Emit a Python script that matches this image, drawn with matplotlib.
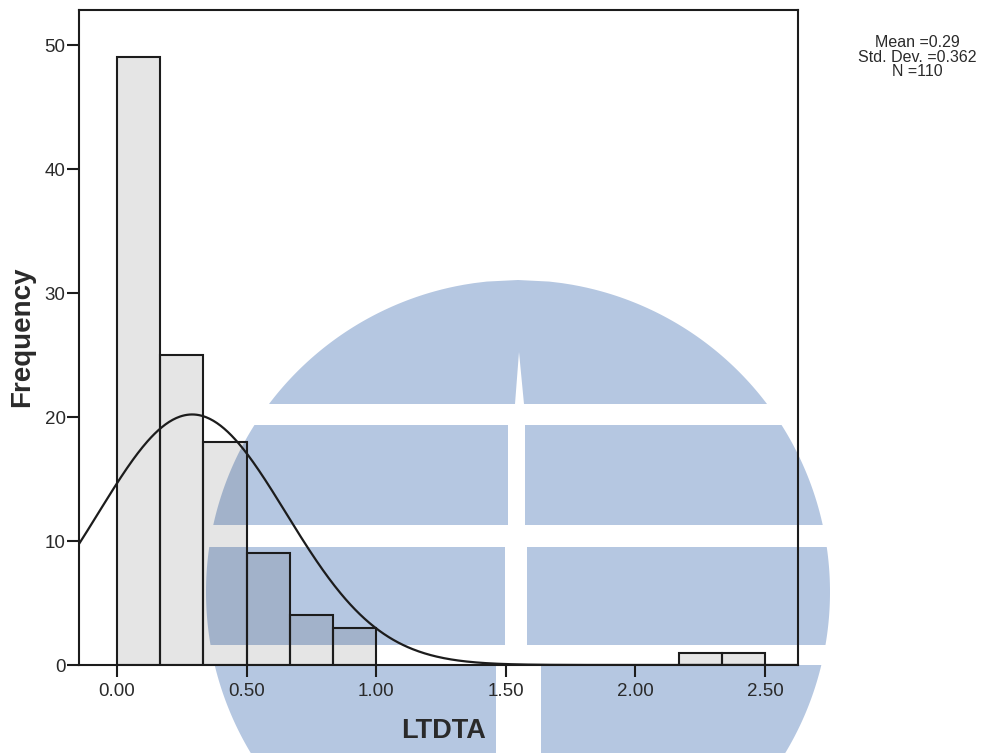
import numpy as np
import matplotlib
matplotlib.use("Agg")
import matplotlib.pyplot as plt
from matplotlib.patches import Polygon

# ---- data -------------------------------------------------------------
bin_width = 1 / 6
bin_starts = np.arange(15) * bin_width          # 0.00 ... 2.33
counts = [49, 25, 18, 9, 4, 3, 0, 0, 0, 0, 0, 0, 0, 1, 1]
mean_val = 0.29
std_val = 0.362
n_obs = 110
x_ticks = [0.0, 0.5, 1.0, 1.5, 2.0, 2.5]
x_ticklabels = ["0.00", "0.50", "1.00", "1.50", "2.00", "2.50"]
y_ticks = [0, 10, 20, 30, 40, 50]
x_title = "LTDTA"
y_title = "Frequency"

W, H = 1001, 753
fig = plt.figure(figsize=(W / 100, H / 100), dpi=100)
fig.patch.set_facecolor("white")
plt.rcParams["font.family"] = ["Liberation Sans", "DejaVu Sans"]

# ---- background emblem (pixel coordinates) -----------------------------
bg = fig.add_axes([0, 0, 1, 1], zorder=0)
bg.set_xlim(0, W)
bg.set_ylim(H, 0)
bg.axis("off")

emb_color = "#b5c7e1"
cx, cy, r = 518, 592, 312
bands = [(280, 404, None), (425, 525, (508, 525)), (547, 645, (505, 527)),
         (665, 760, (496, 541))]


def half_width(y):
    return np.sqrt(np.clip(r ** 2 - (y - cy) ** 2, 0, None))


for y0, y1, gap in bands:
    ys = np.linspace(y0, y1, 80)
    hw = half_width(ys)
    left = cx - hw
    right = cx + hw
    if gap is None:
        pts = np.vstack([np.column_stack([left, ys]),
                         np.column_stack([right[::-1], ys[::-1]])])
        bg.add_patch(Polygon(pts, closed=True, fc=emb_color, ec="none"))
    else:
        gl, gr = gap
        pts_l = np.vstack([np.column_stack([left, ys]),
                           [[gl, y1], [gl, y0]]])
        pts_r = np.vstack([[[gr, y0], [gr, y1]],
                           np.column_stack([right[::-1], ys[::-1]])])
        bg.add_patch(Polygon(pts_l, closed=True, fc=emb_color, ec="none"))
        bg.add_patch(Polygon(pts_r, closed=True, fc=emb_color, ec="none"))

# thin white spike in the top cap
bg.add_patch(Polygon([[519, 352], [515, 404], [524, 404]], closed=True,
                     fc="white", ec="none"))

# ---- histogram axes ------------------------------------------------------
ax_l, ax_r, ax_t, ax_b = 79, 798, 10, 665
ax = fig.add_axes([ax_l / W, (H - ax_b) / H, (ax_r - ax_l) / W, (ax_b - ax_t) / H],
                  zorder=1)
ax.patch.set_alpha(0)

px_per_unit = 259.2
x0_px = 117
ax.set_xlim((ax_l - x0_px) / px_per_unit, (ax_r - x0_px) / px_per_unit)
ax.set_ylim(0, (ax_b - ax_t) / 12.4)

line_col = "#1c1c1c"
for s, c in zip(bin_starts, counts):
    if c > 0:
        ax.bar(s, c, width=bin_width, align="edge", color=(0, 0, 0, 0.10),
               edgecolor=line_col, linewidth=1.5, zorder=2)

# normal curve scaled to counts
xs = np.linspace(ax.get_xlim()[0], ax.get_xlim()[1], 600)
pdf = np.exp(-0.5 * ((xs - mean_val) / std_val) ** 2) / (std_val * np.sqrt(2 * np.pi))
ax.plot(xs, n_obs * bin_width * pdf, color=line_col, lw=1.6, zorder=3)

for sp in ax.spines.values():
    sp.set_color(line_col)
    sp.set_linewidth(1.5)

ax.set_xticks(x_ticks)
ax.set_xticklabels(x_ticklabels)
ax.set_yticks(y_ticks)
ax.tick_params(axis="both", direction="out", length=8.6, width=1.5,
               color=line_col, labelsize=13.5, labelcolor="#2a2a2a")
ax.tick_params(axis="y", pad=1)
ax.tick_params(axis="x", pad=4)

fig.text(444 / W, 1 - 731 / H, x_title, ha="center", va="center",
         fontsize=19.5, fontweight="bold", color="#2a2a2a")
fig.text(22 / W, 1 - 337 / H, y_title, ha="center", va="center",
         rotation=90, fontsize=20, fontweight="bold", color="#2a2a2a")

stats = f"Mean ={mean_val:.2f}\nStd. Dev. ={std_val:.3f}\nN ={n_obs}"
fig.text(917 / W, 1 - 57 / H, stats, ha="center", va="center",
         fontsize=11.5, linespacing=0.92, color="#2a2a2a")

fig.savefig("out.png", dpi=100)
